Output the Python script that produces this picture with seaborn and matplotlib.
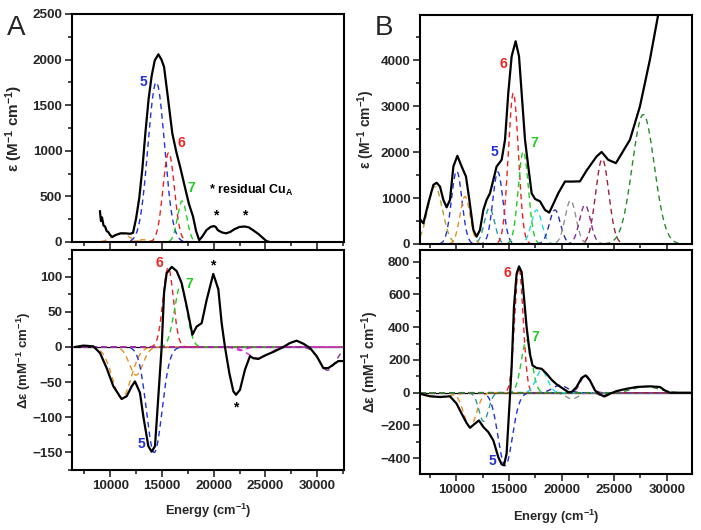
import numpy as np
import pandas as pd
import matplotlib
matplotlib.use("Agg")
import matplotlib.pyplot as plt
import seaborn as sns
from matplotlib.ticker import MultipleLocator

# ---------------- data ----------------
# Panel A, absorption (black trace)
A_abs_x = [9000, 9100, 9200, 9350, 9500, 9650, 9800, 10000, 10200, 10400, 10600, 11000, 11500, 11900,
           12200, 12500, 12800, 13100, 13400, 13700, 14000, 14300, 14650, 14950, 15200, 15600,
           16000, 16400, 16750, 17200, 17600, 18000, 18300, 18600, 18900, 19300, 19700, 20000,
           20200, 20400, 20800, 21200, 21600, 22000, 22500, 23000, 23400, 23800, 24300, 24700,
           25100, 25400]
A_abs_y = [340, 230, 270, 180, 170, 120, 110, 75, 55, 70, 80, 95, 95, 90,
           100, 260, 480, 800, 1200, 1560, 1820, 1990, 2058, 2000, 1920, 1560,
           1190, 980, 826, 610, 420, 280, 120, 20, 60, 130, 165, 175,
           165, 130, 105, 95, 110, 140, 165, 170, 160, 130, 90, 50,
           10, 0]
# Panel A, absorption Gaussian bands
A_abs_cen = [11000, 13200, 14450, 15650, 16950]
A_abs_amp = [95, 25, 1750, 980, 450]
A_abs_wid = [800, 600, 800, 550, 450]

# Panel A, MCD (black trace)
A_cd_x = [6590, 7400, 8360, 9007, 9650, 10300, 11100, 11590, 12070, 12390, 12870, 13200, 13680,
          14000, 14325, 14650, 14970, 15200, 15450, 15940, 16420, 16900, 17390, 17940, 18350,
          18840, 19320, 19960, 20450, 20770, 21090, 21510, 21900, 22160, 22540, 23030, 23510,
          23830, 24320, 24960, 25770, 26730, 27380, 28020, 28670, 29310, 29960, 30600, 31090,
          31570, 32050, 32630]
A_cd_y = [0, 2, 1, -8.5, -30, -56, -74, -70, -56, -49, -65, -99, -141,
          -149, -141, -70, 0, 77, 105, 114, 108, 91, 58, 17.5, 29,
          34, 67, 104, 82, 34, 0, -37, -63, -68, -61, -32, -13,
          -16, -17, -12, -7, 0, 5.7, 9, 4.7, -1.4, -13, -30, -30,
          -25, -20, -20]
A_cd_cen = [11100, 12500, 14250, 15600, 16800, 22600, 24300, 31000]
A_cd_amp = [-73, -40, -150, 113, 87, -5, -16, -33]
A_cd_wid = [900, 650, 750, 500, 600, 500, 1000, 800]

# Panel B, absorption (black trace)
B_abs_x = [6610, 6870, 7340, 7820, 8130, 8450, 8770, 9080, 9400, 9720, 10100, 10510, 10920, 11240,
           11620, 11930, 12250, 12570, 12880, 13200, 13520, 13830, 14310, 14630, 14940, 15260,
           15640, 15960, 16210, 16530, 16840, 17160, 17480, 17950, 18430, 18835, 19220, 19690,
           20330, 20960, 21750, 22380, 23330, 23810, 24440, 25170, 25550, 26500, 27450, 28400,
           29190]
B_abs_y = [524, 451, 888, 1288, 1335, 1252, 961, 800, 961, 1688, 1921, 1688, 1470, 961,
           306, 160, 306, 742, 961, 1106, 1397, 1688, 1834, 2271, 3290, 4090,
           4418, 4090, 3290, 2271, 1688, 1106, 983, 930, 742, 684, 873, 1106,
           1361, 1360, 1365, 1600, 1907, 2005, 1834, 1762, 1907, 2270, 2997, 4017,
           5000]
B_abs_cen = [7975, 10035, 10825, 13150, 13950, 15420, 16370, 17630, 19370, 20860, 22230, 23870, 27770]
B_abs_amp = [1250, 1590, 1035, 790, 1570, 3290, 2016, 742, 742, 950, 852, 1850, 2820]
B_abs_wid = [700, 500, 480, 480, 480, 480, 480, 500, 520, 520, 520, 620, 1050]

# Panel B, MCD (black trace)
B_cd_x = [6550, 7500, 8450, 9400, 10030, 10510, 10980, 11300, 11770, 12150, 12570, 13040, 13520,
          13990, 14310, 14530, 14780, 15040, 15260, 15480, 15730, 15960, 16210, 16430, 16680,
          16990, 17240, 17630, 18110, 18580, 19060, 19540, 20160, 20640, 20960, 21430, 21910,
          22290, 22700, 23180, 23650, 24030, 24600, 25230, 26180, 27140, 28400, 29350, 29830,
          30300, 32500]
B_cd_y = [-6, -22, -26, -22, -67, -128, -185, -214, -189, -169, -209, -240, -291,
          -393, -437, -443, -372, -87, 157, 523, 726, 771, 736, 584, 401,
          238, 167, 151, 146, 116, 79, 51, 24, 4, 4, 35, 90,
          106, 75, 14, -10, -22, -6, 10, 24, 35, 39, 35, 14,
          0, 0]
B_cd_cen = [8400, 11300, 12600, 14650, 15950, 16680, 18110, 19850, 21000, 22290, 24030, 28000]
B_cd_amp = [-25, -209, -175, -445, 765, 320, 136, 45, -37, 106, -25, 38]
B_cd_wid = [1200, 600, 450, 680, 400, 500, 550, 700, 600, 500, 400, 1200]

# ---------------- styles ----------------
C_BLUE = '#2233dd'; C_RED = '#ee2222'; C_GREEN = '#22cc22'; C_ORANGE = '#e69020'
C_OLIVE = '#b0a030'; C_TEAL = '#2a9a9a'; C_CYAN = '#22dddd'; C_NAVY = '#2a2ab0'
C_GRAY = '#909090'; C_PURPLE = '#8a2a9a'; C_MAROON = '#a0203a'; C_DKGREEN = '#2a8a2a'
C_MAGENTA = '#dd22dd'
A_abs_col = [C_ORANGE, C_ORANGE, C_BLUE, C_RED, C_GREEN]
A_cd_col = [C_ORANGE, C_ORANGE, C_BLUE, C_RED, C_GREEN, C_MAGENTA, C_MAGENTA, C_PURPLE]
B_abs_col = [C_OLIVE, C_BLUE, C_ORANGE, C_TEAL, C_BLUE, C_RED, C_GREEN, C_CYAN, C_NAVY,
             C_GRAY, C_PURPLE, C_MAROON, C_DKGREEN]
B_cd_col = [C_OLIVE, C_ORANGE, C_TEAL, C_BLUE, C_RED, C_GREEN, C_CYAN, C_NAVY, C_GRAY,
            C_PURPLE, C_MAROON, C_DKGREEN]

sns.set_style("ticks")
plt.rcParams['font.family'] = ['Liberation Sans', 'DejaVu Sans']
plt.rcParams['font.weight'] = 'bold'
plt.rcParams['mathtext.fontset'] = 'custom'
plt.rcParams['mathtext.rm'] = 'Liberation Sans:bold'
plt.rcParams['mathtext.it'] = 'Liberation Sans:bold'
plt.rcParams['mathtext.bf'] = 'Liberation Sans:bold'
plt.rcParams['mathtext.default'] = 'rm'

W, H = 701, 530
fig = plt.figure(figsize=(W / 100, H / 100), dpi=100)


def add_ax(l, t, r, b):
    return fig.add_axes([l / W, 1 - b / H, (r - l) / W, (b - t) / H])


axA1 = add_ax(72, 14, 344, 242)
axA2 = add_ax(72, 250, 344, 470)
axB1 = add_ax(420, 15, 692, 244)
axB2 = add_ax(420, 250, 692, 474)

XA = (6300, 32600)
XB = (6550, 32400)


def bands(ax, xlim, cen, amp, wid, cols):
    xg = np.linspace(xlim[0], xlim[1], 700)
    for c, a, w, col in zip(cen, amp, wid, cols):
        yg = a * np.exp(-0.5 * ((xg - c) / w) ** 2)
        sns.lineplot(x=xg, y=yg, ax=ax, color=col, linestyle=(0, (4, 3)), lw=1.0,
                     estimator=None, sort=False, zorder=2)


def trace(ax, x, y):
    sns.lineplot(x=x, y=y, ax=ax, color='black', lw=1.6, estimator=None, sort=False, zorder=4)


for ax in (axA2, axB2):
    ax.axhline(0, color='black', lw=0.9, zorder=1)

bands(axA1, XA, A_abs_cen, A_abs_amp, A_abs_wid, A_abs_col)
trace(axA1, A_abs_x, A_abs_y)
bands(axA2, XA, A_cd_cen, A_cd_amp, A_cd_wid, A_cd_col)
trace(axA2, A_cd_x, A_cd_y)
bands(axB1, XB, B_abs_cen, B_abs_amp, B_abs_wid, B_abs_col)
trace(axB1, B_abs_x, B_abs_y)
bands(axB2, XB, B_cd_cen, B_cd_amp, B_cd_wid, B_cd_col)
trace(axB2, B_cd_x, B_cd_y)

axA1.set_xlim(*XA); axA2.set_xlim(*XA)
axB1.set_xlim(*XB); axB2.set_xlim(*XB)
axA1.set_ylim(0, 2500)
axA2.set_ylim(-175, 138)
axB1.set_ylim(0, 4990)
axB2.set_ylim(-496, 871)

axA1.yaxis.set_major_locator(MultipleLocator(500)); axA1.yaxis.set_minor_locator(MultipleLocator(250))
axA2.yaxis.set_major_locator(MultipleLocator(50)); axA2.yaxis.set_minor_locator(MultipleLocator(25))
axB1.yaxis.set_major_locator(MultipleLocator(1000)); axB1.yaxis.set_minor_locator(MultipleLocator(500))
axB2.yaxis.set_major_locator(MultipleLocator(200)); axB2.yaxis.set_minor_locator(MultipleLocator(100))

for ax in (axA1, axA2, axB1, axB2):
    ax.xaxis.set_major_locator(MultipleLocator(5000))
    ax.xaxis.set_minor_locator(MultipleLocator(2500))
    ax.tick_params(which='both', direction='out', top=False, right=False, width=1.2,
                   labelsize=9.7, pad=2)
    ax.tick_params(which='major', length=5)
    ax.tick_params(which='minor', length=3)
    for s in ax.spines.values():
        s.set_visible(True)
        s.set_linewidth(1.5)
        s.set_color('black')
    for lab in ax.get_xticklabels() + ax.get_yticklabels():
        lab.set_fontweight('bold')
    ax.set_xlabel('')
    ax.set_ylabel('')

axA1.tick_params(labelbottom=False)
axB1.tick_params(labelbottom=False)

axA1.set_ylabel('ε (M$^{-1}$ cm$^{-1}$)', fontsize=11, fontweight='bold')
axA2.set_ylabel('Δε (mM$^{-1}$ cm$^{-1}$)', fontsize=9.5, fontweight='bold')
axB1.set_ylabel('ε (M$^{-1}$ cm$^{-1}$)', fontsize=10, fontweight='bold')
axB2.set_ylabel('Δε (mM$^{-1}$ cm$^{-1}$)', fontsize=10, fontweight='bold')
axA1.yaxis.set_label_coords(-0.173, 0.5)
axA2.yaxis.set_label_coords(-0.143, 0.5)
axB1.yaxis.set_label_coords(-0.158, 0.5)
axB2.yaxis.set_label_coords(-0.145, 0.5)
axA2.set_xlabel('Energy (cm$^{-1}$)', fontsize=9.3, fontweight='bold')
axB2.set_xlabel('Energy (cm$^{-1}$)', fontsize=9.3, fontweight='bold')
axA2.xaxis.set_label_coords(0.5, -0.145)
axB2.xaxis.set_label_coords(0.5, -0.152)

t_kw = dict(fontsize=10, fontweight='bold', ha='center', va='center')
# Panel A top
axA1.text(13165, 1754, '5', color=C_BLUE, **t_kw)
axA1.text(16840, 1085, '6', color=C_RED, **t_kw)
axA1.text(17810, 592, '7', color=C_GREEN, **t_kw)
axA1.text(19500, 570, '* residual Cu$_{\\mathregular{A}}$', color='black', fontsize=9,
          fontweight='bold', ha='left', va='center')
axA1.text(20225, 296, '*', color='black', **t_kw)
axA1.text(23030, 296, '*', color='black', **t_kw)
# Panel A bottom
axA2.text(14713, 119.5, '6', color=C_RED, **t_kw)
axA2.text(17614, 89.6, '7', color=C_GREEN, **t_kw)
axA2.text(19935, 116, '*', color='black', **t_kw)
axA2.text(22160, -86, '*', color='black', **t_kw)
axA2.text(12972, -138, '5', color=C_BLUE, **t_kw)
# Panel B top
axB1.text(14435, 3930, '6', color=C_RED, **t_kw)
axB1.text(13580, 2008, '5', color=C_BLUE, **t_kw)
axB1.text(17380, 2205, '7', color=C_GREEN, **t_kw)
# Panel B bottom
axB2.text(14815, 731, '6', color=C_RED, **t_kw)
axB2.text(17475, 340, '7', color=C_GREEN, **t_kw)
axB2.text(13390, -417, '5', color=C_BLUE, **t_kw)

fig.text(7 / W, 1 - 35 / H, 'A', fontsize=20, fontweight='normal', ha='left', va='baseline')
fig.text(375 / W, 1 - 35 / H, 'B', fontsize=20, fontweight='normal', ha='left', va='baseline')

fig.savefig('out.png', dpi=100)
